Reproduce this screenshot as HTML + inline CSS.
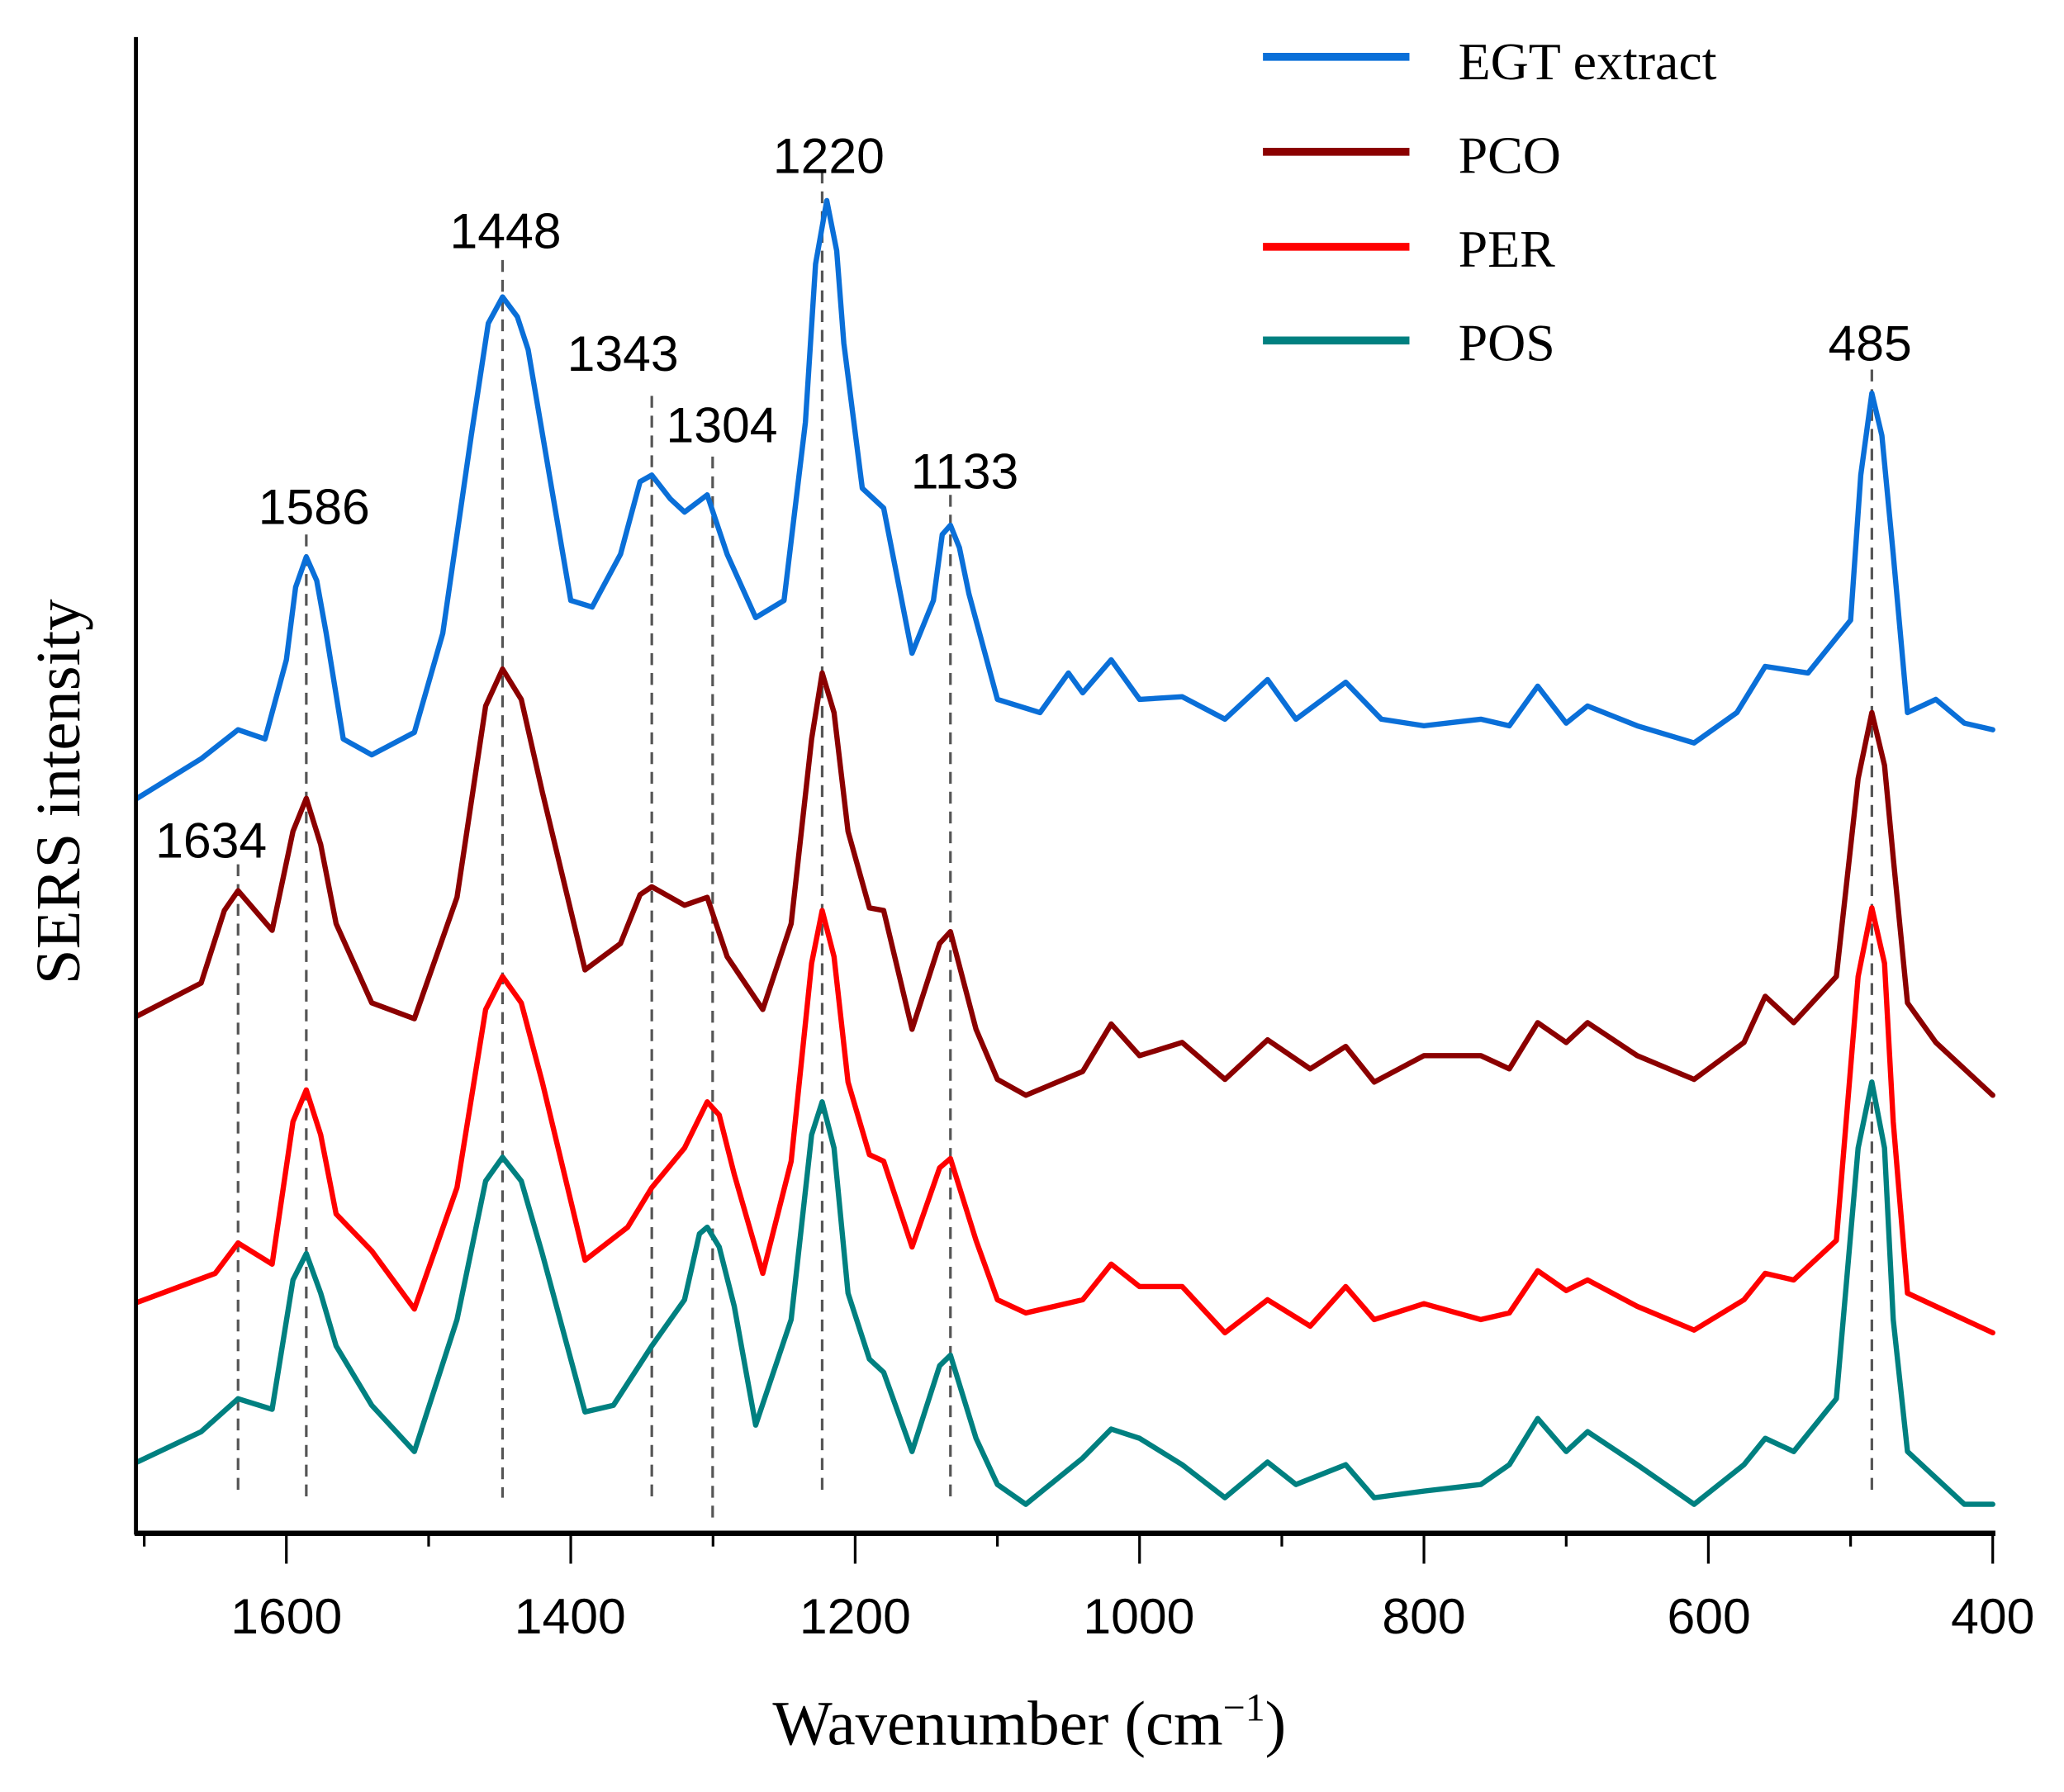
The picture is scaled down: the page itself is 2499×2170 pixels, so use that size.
<!DOCTYPE html>
<html><head><meta charset="utf-8"><style>html,body{margin:0;padding:0;background:#fff}svg{display:block}</style></head>
<body>
<svg width="2499" height="2170" viewBox="0 0 1564 1358" xmlns="http://www.w3.org/2000/svg">
<rect width="1564" height="1358" fill="#fff"/>
<g stroke="#555" stroke-width="2" stroke-dasharray="9,6" fill="none">
<line x1="180.4" y1="655" x2="180.4" y2="1135"/>
<line x1="232.1" y1="405" x2="232.1" y2="1135"/>
<line x1="380.8" y1="197" x2="380.8" y2="1135"/>
<line x1="493.9" y1="300" x2="493.9" y2="1135"/>
<line x1="540" y1="346" x2="540" y2="1150"/>
<line x1="623" y1="130" x2="623" y2="1135"/>
<line x1="720.2" y1="375" x2="720.2" y2="1135"/>
<line x1="1418.4" y1="280" x2="1418.4" y2="1135"/>
</g>
<g fill="none" stroke-width="4" stroke-linejoin="round" stroke-linecap="round">
<polyline stroke="#0a6fd8" points="103.9,605 152.4,575 180.4,553 200.8,560 217,500 224,445 232.1,422 240,440 247.2,480 260.1,560 281.7,572 314,555 335.5,480 357.1,330 370,245 380.8,225 392,240 400.2,265 416.3,360 432.5,455 448.7,460 470.2,420 485,365 493.9,360 507.9,378 518.7,388 535.9,375 551,420 572.6,468 594.1,455 610.3,320 618,200 626.5,152 634,190 639.4,260 653.4,370 669.6,385 691.1,495 707.3,455 714,405 720.2,398 727,415 734.2,450 755.8,530 788.1,540 809.6,510 820.4,525 842,500 863.5,530 895.8,528 928.2,545 960.5,515 982,545 1019.7,517 1046.7,545 1079,550 1122.1,545 1143.7,550 1165.2,520 1186.8,548 1203,535 1240.6,550 1283.7,563 1316.1,540 1337.6,505 1370,510 1402.3,470 1410,360 1418.4,298 1426,330 1434.6,420 1445.4,540 1466.9,530 1488.5,548 1510,553"/>
<polyline stroke="#8b0000" points="103.9,770 152.4,745 170,690 180.4,675 206.2,705 222,630 232.1,605 243,640 254.7,700 281.7,760 314,772 346.3,680 368,535 380.8,507 395,530 410.9,600 443.3,735 470.2,715 485,678 493.9,672 518.7,686 535.9,680 551,725 578,765 599.5,700 615,560 623,510 632,540 642.6,630 658.8,688 669.6,690 691.1,780 712,715 720.2,706 739.6,780 755.8,818 777.3,830 820.4,812 842,776 863.5,800 895.8,790 928.2,818 960.5,788 992.8,810 1019.7,793 1041.3,820 1079,800 1122.1,800 1143.7,810 1165.2,775 1186.8,790 1203,775 1240.6,800 1283.7,818 1321.5,790 1337.6,755 1359.2,775 1391.5,740 1408,590 1418.4,540 1428,580 1434.6,650 1445.4,760 1466.9,790 1510,830"/>
<polyline stroke="#ff0000" points="103.9,987 163.1,965 180.4,942 206.2,958 222,850 232.1,826 243,860 254.7,920 281.7,948 314,992 346.3,900 368,765 380.8,740 395,760 410.9,820 443.3,955 475.6,930 493.9,900 518.7,870 535.9,835 545,845 556.4,890 578,965 599.5,880 615,730 623,690 632,725 642.6,820 658.8,875 669.6,880 691.1,945 712,885 720.2,878 739.6,940 755.8,985 777.3,995 820.4,985 842,958 863.5,975 895.8,975 928.2,1010 960.5,985 992.8,1005 1019.7,975 1041.3,1000 1079,988 1122.1,1000 1143.7,995 1165.2,963 1186.8,978 1203,970 1240.6,990 1283.7,1008 1321.5,985 1337.6,965 1359.2,970 1391.5,940 1408,740 1418.4,688 1428,730 1434.6,850 1445.4,980 1466.9,990 1510,1010"/>
<polyline stroke="#008080" points="103.9,1108 152.4,1085 180.4,1060 206.2,1068 222,970 232.1,950 243,980 254.7,1020 281.7,1065 314,1100 346.3,1000 368,895 380.8,877 395,895 410.9,950 443.3,1070 464.8,1065 493.9,1020 518.7,985 530,935 535.9,930 545,945 556.4,990 572.6,1080 599.5,1000 615,860 623,835 632,870 642.6,980 658.8,1030 669.6,1040 691.1,1100 712,1035 720.2,1027 739.6,1090 755.8,1125 777.3,1140 820.4,1105 842,1083 863.5,1090 895.8,1110 928.2,1135 960.5,1108 982,1125 1019.7,1110 1041.3,1135 1079,1130 1122.1,1125 1143.7,1110 1165.2,1075 1186.8,1100 1203,1085 1240.6,1110 1283.7,1140 1321.5,1110 1337.6,1090 1359.2,1100 1391.5,1060 1408,870 1418.4,820 1428,870 1434.6,1000 1445.4,1100 1466.9,1120 1488.5,1140 1510,1140"/>
</g>
<line x1="103" y1="28" x2="103" y2="1163" stroke="#000" stroke-width="3"/>
<line x1="102" y1="1162" x2="1512" y2="1162" stroke="#000" stroke-width="4"/>
<g stroke="#000" stroke-width="2">
<line x1="109.3" y1="1162" x2="109.3" y2="1172"/><line x1="217" y1="1162" x2="217" y2="1185"/>
<line x1="324.8" y1="1162" x2="324.8" y2="1172"/><line x1="432.5" y1="1162" x2="432.5" y2="1185"/>
<line x1="540.3" y1="1162" x2="540.3" y2="1172"/><line x1="648" y1="1162" x2="648" y2="1185"/>
<line x1="755.8" y1="1162" x2="755.8" y2="1172"/><line x1="863.5" y1="1162" x2="863.5" y2="1185"/>
<line x1="971.3" y1="1162" x2="971.3" y2="1172"/><line x1="1079" y1="1162" x2="1079" y2="1185"/>
<line x1="1186.8" y1="1162" x2="1186.8" y2="1172"/><line x1="1294.5" y1="1162" x2="1294.5" y2="1185"/>
<line x1="1402.3" y1="1162" x2="1402.3" y2="1172"/><line x1="1510" y1="1162" x2="1510" y2="1185"/>
</g>
<g font-family="Liberation Sans, sans-serif" font-size="38" text-anchor="middle" fill="#000">
<text x="217" y="1238">1600</text><text x="432" y="1238">1400</text><text x="648" y="1238">1200</text>
<text x="863" y="1238">1000</text><text x="1079" y="1238">800</text><text x="1295" y="1238">600</text><text x="1510" y="1238">400</text>
<text x="160" y="650">1634</text><text x="238" y="397">1586</text><text x="383" y="188">1448</text>
<text x="472" y="281">1343</text><text x="547" y="335">1304</text><text x="628" y="131">1220</text>
<text x="731" y="370">1133</text><text x="1417" y="273">485</text>
</g>
<g font-family="Liberation Serif, serif" fill="#000">
<text x="780" y="1322" font-size="48" text-anchor="middle">Wavenumber (cm<tspan font-size="30" dy="-18">−1</tspan><tspan dy="18">)</tspan></text>
<text transform="translate(60,600) rotate(-90)" font-size="48" text-anchor="middle">SERS intensity</text>
<text x="1105" y="60" font-size="40">EGT extract</text>
<text x="1105" y="131" font-size="40">PCO</text>
<text x="1105" y="202" font-size="40">PER</text>
<text x="1105" y="273" font-size="40">POS</text>
</g>
<g stroke-width="6">
<line x1="957" y1="43" x2="1068" y2="43" stroke="#0a6fd8"/>
<line x1="957" y1="115" x2="1068" y2="115" stroke="#8b0000"/>
<line x1="957" y1="187" x2="1068" y2="187" stroke="#ff0000"/>
<line x1="957" y1="258" x2="1068" y2="258" stroke="#008080"/>
</g>
</svg>
</body></html>
